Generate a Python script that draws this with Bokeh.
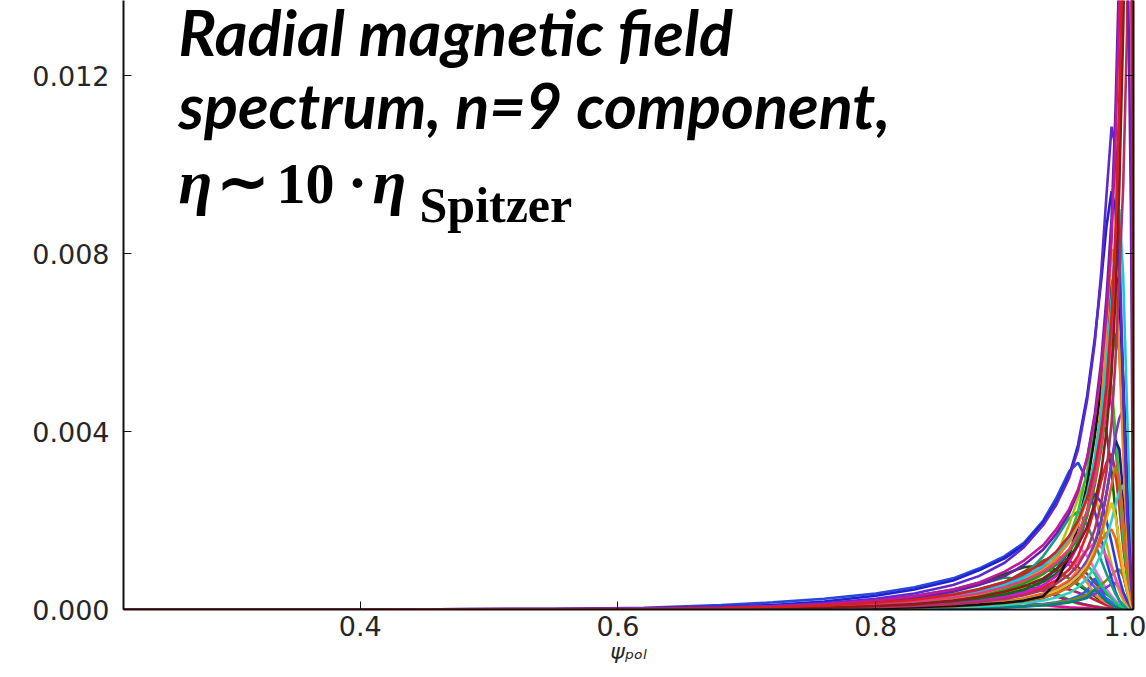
from bokeh.plotting import figure
from bokeh.models import Range1d, FixedTicker, PrintfTickFormatter, LinearAxis, Label
from bokeh.embed import file_html
from bokeh.resources import INLINE

# ---------------- data (y values in units of 1e-3) ----------------
psi = [0.2163, 0.40, 0.55, 0.62, 0.68, 0.72, 0.76, 0.80, 0.83, 0.86, 0.88, 0.90, 0.915, 0.93,
       0.94, 0.95, 0.957, 0.964, 0.97, 0.975, 0.979, 0.983, 0.986, 0.989, 0.992, 0.995, 0.998, 1.0]

x_ticks = [0.4, 0.6, 0.8, 1.0]
y_ticks = [0.000, 0.004, 0.008, 0.012]
x_label = "ψₚₒₗ"

# low humps in the 0.8 - 0.95 band
hump_magenta = [0, 0, 0.005, 0.01, 0.03, 0.06, 0.11, 0.2, 0.28, 0.33, 0.3, 0.22, 0.15, 0.1, 0.07, 0.05, 0.04, 0.03, 0.02, 0.02, 0.01, 0.01, 0.01, 0, 0, 0, 0, 0]
hump_green = [0, 0, 0, 0.01, 0.03, 0.05, 0.1, 0.18, 0.28, 0.42, 0.56, 0.72, 0.68, 0.5, 0.35, 0.22, 0.15, 0.1, 0.07, 0.05, 0.03, 0.02, 0.01, 0.01, 0, 0, 0, 0]
hump_light = [0, 0, 0, 0.01, 0.02, 0.04, 0.07, 0.12, 0.19, 0.29, 0.38, 0.5, 0.55, 0.45, 0.3, 0.2, 0.13, 0.09, 0.06, 0.04, 0.03, 0.02, 0.01, 0, 0, 0, 0, 0]
hump_dark = [0, 0, 0, 0.01, 0.03, 0.06, 0.11, 0.19, 0.3, 0.45, 0.6, 0.8, 0.95, 1.0, 0.9, 0.7, 0.55, 0.42, 0.3, 0.2, 0.14, 0.09, 0.05, 0.03, 0.01, 0, 0, 0]
hump_crimson = [0, 0, 0, 0, 0.01, 0.02, 0.04, 0.07, 0.12, 0.19, 0.26, 0.35, 0.42, 0.48, 0.5, 0.45, 0.38, 0.3, 0.22, 0.15, 0.1, 0.07, 0.04, 0.02, 0.01, 0, 0, 0]
hump_brown = [0, 0, 0, 0.01, 0.02, 0.03, 0.05, 0.09, 0.15, 0.25, 0.38, 0.6, 0.85, 1.1, 1.2, 1.1, 0.95, 0.8, 0.6, 0.45, 0.35, 0.25, 0.18, 0.12, 0.08, 0.04, 0.01, 0]
hump_rose = [0, 0, 0, 0, 0.01, 0.02, 0.05, 0.1, 0.18, 0.3, 0.42, 0.6, 0.55, 0.42, 0.3, 0.2, 0.14, 0.1, 0.06, 0.04, 0.03, 0.02, 0.01, 0, 0, 0, 0, 0]
hump_fern = [0, 0, 0, 0.01, 0.02, 0.04, 0.08, 0.14, 0.22, 0.34, 0.46, 0.62, 0.78, 0.9, 0.85, 0.7, 0.58, 0.45, 0.33, 0.24, 0.17, 0.11, 0.07, 0.04, 0.02, 0.01, 0, 0]
hump_slate = [0, 0, 0, 0.01, 0.02, 0.04, 0.07, 0.13, 0.2, 0.31, 0.42, 0.58, 0.74, 0.95, 1.1, 1.0, 0.85, 0.68, 0.5, 0.36, 0.25, 0.17, 0.11, 0.07, 0.04, 0.02, 0, 0]
hump_orchid = [0, 0, 0, 0, 0.01, 0.02, 0.04, 0.08, 0.13, 0.21, 0.3, 0.44, 0.6, 0.85, 1.1, 1.6, 1.45, 1.2, 0.9, 0.65, 0.45, 0.3, 0.2, 0.12, 0.07, 0.03, 0.01, 0]

# small spikes near the edge
spike_blue = [0, 0, 0, 0, 0, 0, 0.01, 0.01, 0.02, 0.03, 0.04, 0.06, 0.08, 0.12, 0.16, 0.22, 0.3, 0.42, 0.7, 0.45, 0.2, 0.12, 0.08, 0.05, 0.03, 0.02, 0.01, 0]
spike_orange = [0, 0, 0, 0, 0, 0.01, 0.01, 0.02, 0.03, 0.05, 0.07, 0.1, 0.15, 0.25, 0.4, 0.65, 0.9, 0.6, 0.35, 0.22, 0.15, 0.1, 0.06, 0.04, 0.02, 0.01, 0, 0]
spike_violet = [0, 0, 0, 0, 0, 0, 0.01, 0.01, 0.02, 0.03, 0.04, 0.05, 0.07, 0.1, 0.13, 0.17, 0.22, 0.28, 0.35, 0.42, 0.5, 0.57, 0.6, 0.45, 0.25, 0.12, 0.04, 0]
spike_olive = [0, 0, 0, 0, 0, 0, 0.01, 0.01, 0.02, 0.03, 0.04, 0.06, 0.08, 0.11, 0.15, 0.2, 0.26, 0.34, 0.44, 0.55, 0.66, 0.78, 0.86, 0.9, 0.75, 0.45, 0.15, 0]
spike_teal = [0, 0, 0, 0, 0, 0, 0.01, 0.01, 0.02, 0.03, 0.04, 0.05, 0.07, 0.09, 0.12, 0.16, 0.2, 0.26, 0.45, 0.3, 0.18, 0.1, 0.06, 0.04, 0.02, 0.01, 0, 0]
spike_spring = [0, 0, 0, 0, 0, 0.01, 0.02, 0.03, 0.05, 0.08, 0.11, 0.16, 0.22, 0.32, 0.44, 0.6, 0.8, 1.0, 0.8, 0.55, 0.38, 0.25, 0.15, 0.09, 0.05, 0.02, 0, 0]

# medium peaks
mid_darkgreen = [0, 0, 0, 0, 0.01, 0.02, 0.04, 0.07, 0.11, 0.17, 0.24, 0.34, 0.45, 0.62, 0.8, 1.1, 1.5, 2.2, 3.2, 4.2, 4.0, 3.1, 2.2, 1.4, 0.8, 0.4, 0.1, 0]
mid_red = [0, 0, 0, 0, 0.01, 0.01, 0.03, 0.05, 0.08, 0.13, 0.18, 0.26, 0.35, 0.5, 0.65, 0.9, 1.2, 1.7, 2.3, 2.9, 3.3, 3.5, 3.1, 2.3, 1.4, 0.7, 0.2, 0]
mid_yellow = [0, 0, 0, 0.01, 0.01, 0.02, 0.04, 0.07, 0.11, 0.17, 0.24, 0.36, 0.5, 0.8, 1.2, 1.9, 2.5, 3.0, 2.6, 2.0, 1.5, 1.0, 0.7, 0.4, 0.2, 0.1, 0, 0]
mid_magenta = [0, 0, 0, 0, 0.01, 0.02, 0.03, 0.05, 0.08, 0.13, 0.19, 0.28, 0.38, 0.55, 0.75, 1.05, 1.45, 2.1, 3.0, 4.0, 5.0, 4.6, 3.7, 2.6, 1.6, 0.8, 0.3, 0]
mid_teal = [0, 0, 0, 0.01, 0.02, 0.03, 0.05, 0.09, 0.14, 0.22, 0.32, 0.5, 0.75, 1.2, 1.6, 2.05, 2.2, 1.9, 1.5, 1.1, 0.8, 0.55, 0.35, 0.2, 0.1, 0.05, 0, 0]
mid_blue = [0, 0, 0, 0, 0.01, 0.02, 0.03, 0.06, 0.1, 0.15, 0.22, 0.32, 0.44, 0.65, 0.9, 1.3, 1.7, 2.2, 2.6, 2.4, 2.0, 1.5, 1.1, 0.7, 0.4, 0.2, 0.05, 0]
mid_orange = [0, 0, 0, 0, 0, 0.01, 0.02, 0.03, 0.05, 0.08, 0.12, 0.18, 0.25, 0.36, 0.48, 0.65, 0.82, 1.05, 1.3, 1.55, 1.72, 1.8, 1.6, 1.2, 0.8, 0.4, 0.1, 0]
mid_purple = [0, 0, 0, 0, 0, 0.01, 0.02, 0.03, 0.05, 0.08, 0.11, 0.16, 0.22, 0.32, 0.43, 0.6, 0.8, 1.1, 1.5, 2.0, 2.6, 3.3, 3.9, 4.3, 4.5, 3.5, 1.5, 0]
mid_green = [0, 0, 0, 0.01, 0.02, 0.03, 0.05, 0.09, 0.14, 0.22, 0.31, 0.45, 0.6, 0.85, 1.15, 1.6, 2.2, 3.1, 4.2, 5.0, 5.5, 5.0, 4.0, 2.8, 1.6, 0.8, 0.3, 0]
mid_navy = [0, 0, 0, 0, 0, 0, 0.01, 0.02, 0.04, 0.06, 0.09, 0.13, 0.18, 0.27, 0.37, 0.52, 0.7, 1.0, 1.45, 2.0, 2.6, 3.3, 3.8, 3.6, 2.6, 1.4, 0.4, 0]
mid_cyan = [0, 0, 0, 0, 0, 0, 0.01, 0.02, 0.03, 0.05, 0.07, 0.1, 0.14, 0.2, 0.27, 0.37, 0.5, 0.7, 0.95, 1.25, 1.6, 2.0, 2.35, 2.65, 2.8, 2.2, 0.9, 0]
mid_pink = [0, 0, 0, 0, 0.01, 0.01, 0.02, 0.04, 0.07, 0.11, 0.16, 0.24, 0.33, 0.5, 0.66, 0.9, 1.1, 1.35, 1.5, 1.4, 1.2, 0.95, 0.7, 0.5, 0.3, 0.15, 0.05, 0]
mid_gold = [0, 0, 0, 0, 0, 0.01, 0.02, 0.03, 0.05, 0.08, 0.11, 0.16, 0.22, 0.31, 0.42, 0.58, 0.76, 1.0, 1.35, 1.7, 2.05, 2.4, 2.1, 1.5, 0.9, 0.45, 0.12, 0]
mid_sienna = [0, 0, 0, 0, 0, 0.01, 0.02, 0.03, 0.05, 0.07, 0.1, 0.14, 0.19, 0.27, 0.36, 0.5, 0.66, 0.9, 1.25, 1.7, 2.2, 2.8, 3.2, 2.9, 2.0, 1.0, 0.3, 0]
envelope_blue = [0, 0, 0.01, 0.04, 0.1, 0.16, 0.24, 0.36, 0.5, 0.7, 0.92, 1.2, 1.5, 2.0, 2.5, 3.1, 3.3, 2.9, 2.2, 1.6, 1.1, 0.7, 0.4, 0.2, 0.1, 0.04, 0.01, 0]

# higher peaks
high_black = [0, 0, 0, 0, 0, 0.01, 0.02, 0.03, 0.05, 0.08, 0.11, 0.15, 0.2, 0.3, 0.6, 1.2, 1.9, 2.8, 3.9, 5.0, 6.2, 7.3, 7.6, 7.0, 5.2, 3.0, 1.0, 0]
high_green = [0, 0, 0, 0.01, 0.02, 0.03, 0.05, 0.09, 0.14, 0.22, 0.3, 0.44, 0.58, 0.8, 1.0, 1.3, 1.6, 2.1, 2.8, 3.6, 4.5, 5.6, 6.2, 5.8, 4.2, 2.2, 0.8, 0]
high_orange = [0, 0, 0, 0.01, 0.02, 0.03, 0.06, 0.1, 0.16, 0.25, 0.35, 0.5, 0.66, 0.9, 1.15, 1.5, 1.9, 2.5, 3.4, 4.6, 6.2, 8.1, 7.6, 5.8, 3.5, 1.6, 0.5, 0]
high_cyan = [0, 0, 0, 0.01, 0.02, 0.04, 0.07, 0.12, 0.18, 0.28, 0.38, 0.55, 0.72, 0.98, 1.25, 1.6, 2.0, 2.6, 3.4, 4.4, 5.5, 7.0, 8.3, 9.0, 7.5, 4.5, 1.5, 0]
high_blue = [0, 0, 0.01, 0.02, 0.06, 0.1, 0.18, 0.31, 0.45, 0.65, 0.88, 1.15, 1.45, 1.95, 2.4, 3.0, 3.7, 4.8, 6.1, 7.4, 8.6, 9.4, 9.0, 7.5, 5.0, 2.5, 0.8, 0]
high_purple = [0, 0, 0.01, 0.02, 0.05, 0.08, 0.14, 0.24, 0.36, 0.55, 0.75, 1.05, 1.4, 1.9, 2.35, 2.95, 3.6, 4.7, 6.0, 7.6, 9.3, 10.85, 10.4, 8.2, 5.0, 2.2, 0.6, 0]

# tall spikes leaving the top of the frame
tall_red = [0, 0, 0.005, 0.01, 0.03, 0.05, 0.09, 0.15, 0.22, 0.33, 0.45, 0.62, 0.8, 1.05, 1.3, 1.65, 2.0, 2.5, 3.2, 4.0, 5.0, 6.6, 8.5, 11.5, 15.5, 20, 24, 0]
tall_magenta = [0, 0, 0.01, 0.02, 0.04, 0.07, 0.12, 0.2, 0.3, 0.45, 0.6, 0.85, 1.1, 1.45, 1.8, 2.25, 2.7, 3.4, 4.3, 5.4, 6.6, 8.3, 10.5, 13.5, 17, 21, 19, 0]
tall_violet = [0, 0, 0.005, 0.01, 0.03, 0.06, 0.1, 0.17, 0.26, 0.4, 0.55, 0.75, 1.0, 1.35, 1.7, 2.15, 2.65, 3.4, 4.4, 5.6, 7.0, 8.8, 11.2, 14.5, 18, 16, 9, 0]
tall_darkred = [0, 0, 0, 0.005, 0.01, 0.02, 0.04, 0.08, 0.12, 0.2, 0.28, 0.4, 0.52, 0.7, 0.9, 1.15, 1.45, 1.85, 2.4, 3.1, 4.0, 5.3, 7.0, 9.5, 13, 18, 26, 0]
tall_pink = [0, 0, 0, 0.01, 0.02, 0.04, 0.07, 0.12, 0.18, 0.27, 0.36, 0.5, 0.65, 0.85, 1.05, 1.35, 1.7, 2.2, 2.9, 3.7, 4.7, 6.2, 8.0, 10.8, 14.5, 19.5, 22, 0]
tall_rose = [0, 0, 0, 0, 0.01, 0.02, 0.03, 0.05, 0.08, 0.12, 0.17, 0.24, 0.32, 0.44, 0.58, 0.78, 1.0, 1.35, 1.8, 2.4, 3.1, 4.2, 5.6, 7.5, 9.5, 13, 30, 0]

series = [
    (hump_magenta, "#e0108a"), (hump_green, "#10a040"), (hump_light, "#60e060"),
    (hump_dark, "#0a5a0a"), (hump_crimson, "#c0203a"), (hump_brown, "#8a4a1a"),
    (hump_rose, "#c01060"), (hump_fern, "#3a8a3a"), (hump_slate, "#5060ff"),
    (hump_orchid, "#ff60ff"),
    (spike_blue, "#2060ff"), (spike_orange, "#ff8040"), (spike_violet, "#a020f0"),
    (spike_olive, "#7a8a10"), (spike_teal, "#008080"), (spike_spring, "#00d070"),
    (envelope_blue, "#2848d8"), (mid_teal, "#1a9a8a"), (mid_yellow, "#b8c010"),
    (mid_pink, "#ff4fa0"), (mid_blue, "#2a3ae0"), (mid_darkgreen, "#0b6e0b"),
    (mid_orange, "#f06a10"), (mid_red, "#e02020"), (mid_magenta, "#d01ad0"),
    (mid_green, "#30c030"), (mid_navy, "#1a1a8a"), (mid_cyan, "#30d0c0"),
    (mid_purple, "#7a3ac8"), (mid_gold, "#e0c020"), (mid_sienna, "#d2691e"),
    (high_black, "#111111"), (high_green, "#18a018"), (high_orange, "#f08a1c"),
    (high_cyan, "#17c8d8"), (high_blue, "#2020d0"), (high_purple, "#5a2ad0"),
    (tall_rose, "#b03060"), (tall_pink, "#e83a7a"), (tall_darkred, "#8b1a1a"),
    (tall_violet, "#6a1fb0"), (tall_magenta, "#c0189a"), (tall_red, "#d42020"),
]

# ---------------- figure ----------------
W, H = 1146, 677
X0, X1 = 0.2163, 1.0
Y1 = 609 / 44500.0

p = figure(width=W, height=H, output_backend="svg", toolbar_location=None,
           x_range=Range1d(X0, X1), y_range=Range1d(0, Y1),
           min_border_left=123, min_border_right=13, min_border_top=0, min_border_bottom=68)
p.outline_line_color = None
p.grid.visible = False
p.background_fill_color = "white"
p.border_fill_color = "white"

for ys, col in series:
    p.line(psi, [v * 1e-3 for v in ys], line_color=col, line_width=2.6)

for ax in (p.xaxis[0], p.yaxis[0]):
    ax.axis_line_color = "#111111"
    ax.axis_line_width = 2
    ax.major_tick_in = 8
    ax.major_tick_out = 0
    ax.minor_tick_line_color = None
    ax.major_tick_line_color = "#111111"
    ax.major_label_text_font = "DejaVu Sans"
    ax.major_label_text_font_size = "27px"
    ax.major_label_text_color = "#262626"

p.xaxis[0].ticker = FixedTicker(ticks=x_ticks)
p.xaxis[0].formatter = PrintfTickFormatter(format="%.1f")
p.xaxis[0].major_label_standoff = 6
p.xaxis[0].axis_label = x_label
p.xaxis[0].axis_label_text_font = "DejaVu Sans"
p.xaxis[0].axis_label_text_font_style = "italic"
p.xaxis[0].axis_label_text_font_size = "22px"
p.xaxis[0].axis_label_text_color = "#262626"
p.xaxis[0].axis_label_standoff = 0
p.yaxis[0].ticker = FixedTicker(ticks=y_ticks)
p.yaxis[0].formatter = PrintfTickFormatter(format="%.3f")
p.yaxis[0].major_label_standoff = 14

right = LinearAxis(ticker=FixedTicker(ticks=y_ticks), axis_line_color="#111111", axis_line_width=2,
                   major_tick_in=8, major_tick_out=0, minor_tick_line_color=None,
                   major_label_overrides={t: "" for t in y_ticks}, major_label_standoff=0,
                   major_label_text_font_size="8px")
p.add_layout(right, "right")

# ---------------- annotation text ----------------
def dx(sx):
    return X0 + (sx - 123) / 1288.7

def dy(sy):
    return (609 - sy) / 44500.0

TITLE_SIZE = 63
for txt, base in (("Radial magnetic field", 57), ("spectrum, n=9 component,", 130)):
    p.add_layout(Label(x=dx(178), y=dy(base - 0.41 * TITLE_SIZE), text=txt, text_font="Lato",
                       text_font_style="bold italic", text_font_size=f"{TITLE_SIZE}px",
                       text_color="black", text_baseline="alphabetic"))

pieces = [
    ("η", 178, 207, "bold italic", 62),
    ("∼", 216, 207, "bold", 62),
    ("10", 276, 207, "bold", 58),
    ("·", 347, 207, "bold", 60),
    ("η", 372, 207, "bold italic", 62),
    ("Spitzer", 419, 225, "bold", 50),
]
for txt, sx, base, style, size in pieces:
    p.add_layout(Label(x=dx(sx), y=dy(base - 0.41 * size), text=txt, text_font="Liberation Serif",
                       text_font_style=style, text_font_size=f"{size}px", text_color="black",
                       text_baseline="alphabetic"))

open("out.html", "w").write(file_html(p, INLINE))
